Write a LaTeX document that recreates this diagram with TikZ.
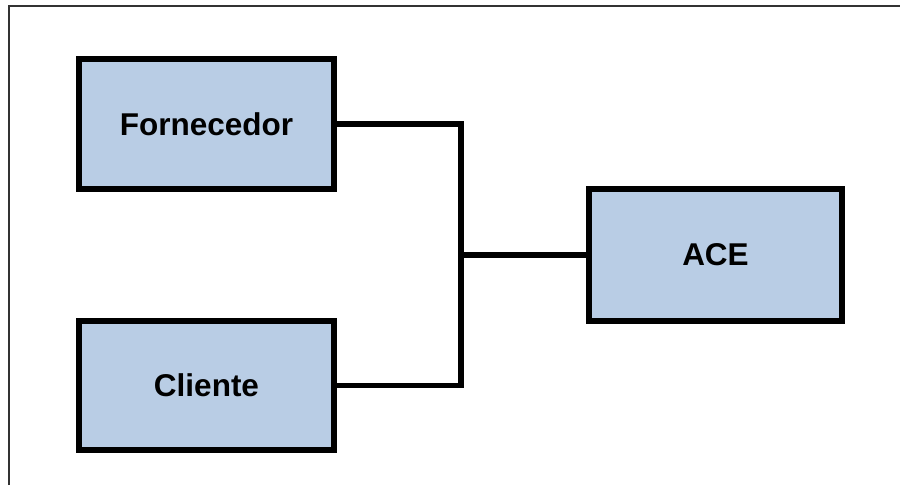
\documentclass[tikz,border=0pt]{standalone}
\usepackage{fontspec}
\setmainfont{Liberation Sans}
\definecolor{boxfill}{HTML}{B9CDE5}
\definecolor{framegray}{HTML}{333333}
\begin{document}
\begin{tikzpicture}[x=1pt,y=-1pt,
  entity/.style={draw=black, fill=boxfill, line width=6pt, rectangle,
    inner sep=0pt, font=\bfseries\fontsize{31.5}{38}\selectfont},
  link/.style={draw=black, line width=5.5pt, line join=miter}]
  \useasboundingbox (0,0) rectangle (900,485);
  % open frame around the drawing
  \draw[framegray, line width=2.5pt] (9,485) -- (9,6) -- (900,6);
  % entities
  \node[entity, minimum width=255pt, minimum height=130pt] (forn) at (206.5,124) {Fornecedor};
  \node[entity, minimum width=255pt, minimum height=129pt] (cli) at (206.5,385.5) {Cliente};
  \node[entity, minimum width=253pt, minimum height=132pt] (ace) at (715.5,255) {ACE};
  % junction of the connectors
  \coordinate (j) at (461,255);
  \draw[link] (forn.east) -| (j) -- (ace.west);
  \draw[link] (cli.east) -| (j);
\end{tikzpicture}
\end{document}
